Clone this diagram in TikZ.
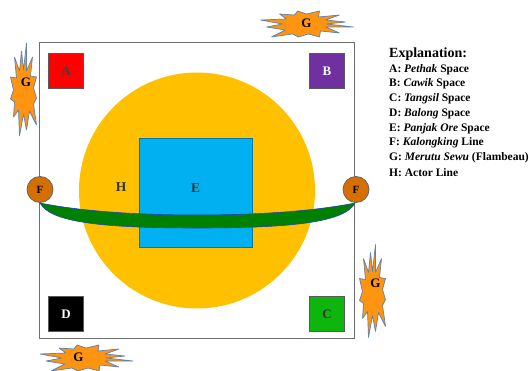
\documentclass[tikz,border=0pt]{standalone}
\usepackage{fontspec}
\setmainfont{Liberation Serif}
\definecolor{framegrey}{HTML}{6E6E6E}
\definecolor{discyellow}{HTML}{FFC000}
\definecolor{centreblue}{HTML}{00B0F0}
\definecolor{boxred}{HTML}{FF0000}
\definecolor{boxpurple}{HTML}{7030A0}
\definecolor{boxgreen}{HTML}{0DB50D}
\definecolor{fbrown}{HTML}{D46F00}
\definecolor{lensgreen}{HTML}{008000}
\definecolor{lensblue}{HTML}{2040C0}
\definecolor{staror}{HTML}{FF9410}
\definecolor{starline}{HTML}{5F82AE}
\tikzset{
  x=1pt,y=-1pt,
  cornerbox/.style={draw=black!65,line width=.8pt,minimum width=35.5pt,minimum height=34.5pt,inner sep=0pt,font=\bfseries\fontsize{13}{13}\selectfont},
  fball/.style={circle,draw=black!60,fill=fbrown,line width=.8pt,minimum size=26pt,inner sep=0pt,font=\bfseries\fontsize{11}{11}\selectfont},
  biglabel/.style={font=\bfseries\fontsize{13.5}{13.5}\selectfont,inner sep=0pt,text=black!80},
  glabel/.style={font=\bfseries\fontsize{13}{13}\selectfont,inner sep=0pt},
  legend/.style={anchor=west,inner sep=0pt,font=\bfseries\fontsize{11.5}{12}\selectfont},
  starshape/.style={draw=starline,fill=staror,line width=.7pt,line join=bevel},
}
\newcommand{\gstar}[2]{%
  \begin{scope}[shift={(#1)},rotate=#2]
  \draw[starshape] (-46,-4) -- (-20,-5) -- (-27,-10) -- (-12,-9) -- (-9,-13) -- (0,-10) -- (13,-13) -- (12,-7) -- (33,-9) -- (19,-4) -- (39,-2) -- (20,0) -- (47,3) -- (19,3) -- (33,9) -- (14,7) -- (13,13) -- (2,10) -- (-8,13) -- (-14,10) -- (-35,13) -- (-21,6) -- (-40,3) -- (-24,0) -- cycle;
  \end{scope}}
\begin{document}
\begin{tikzpicture}
\useasboundingbox (0,0) rectangle (529,371);
\node[draw=framegrey,line width=1pt,minimum width=315pt,minimum height=296.5pt,inner sep=0pt] (frame) at (197,190.5) {};
\node[circle,fill=discyellow,minimum size=236pt,inner sep=0pt] (disc) at (197,190.5) {};
\node[draw=black!30!centreblue,fill=centreblue,line width=.4pt,minimum width=113pt,minimum height=109pt,inner sep=0pt] (centre) at (196,192.5) {};
\node[biglabel] (H) at (121,187) {H};
\node[biglabel] (E) at (195.5,188) {E};
\node[cornerbox,fill=boxred,text=black!75] (A) at (66,71) {A};
\node[cornerbox,fill=boxpurple,text=white] (B) at (327,71) {B};
\node[cornerbox,fill=boxgreen,text=black!80] (C) at (327,314) {C};
\node[cornerbox,fill=black,text=white] (D) at (66,314) {D};
\coordinate (lensL) at (40,203);
\coordinate (lensM) at (197,215);
\coordinate (lensN) at (197,228);
\coordinate (lensR) at (355,203);
\draw[draw=lensblue,fill=lensgreen,line width=.6pt] (lensL) .. controls (70,209) and (120,215) .. (lensM) .. controls (274,215) and (325,209) .. (lensR) .. controls (345,222) and (294,228) .. (lensN) .. controls (100,228) and (50,222) .. (lensL) -- cycle;
\node[fball] (F1) at (40,189.5) {F};
\node[fball] (F2) at (356,189.5) {F};
\gstar{306.5,24}{0}
\gstar{86,358}{0}
\gstar{23.5,90}{90}
\gstar{372.5,291.5}{90}
\node[glabel] (G1) at (306.5,23) {G};
\node[glabel] (G2) at (78.5,357) {G};
\node[glabel] (G3) at (26,82) {G};
\node[glabel] (G4) at (375.5,283) {G};
\node[legend,font=\bfseries\fontsize{14}{14}\selectfont] (t0) at (389,54) {Explanation:};
\node[legend] (t1) at (389,69.5) {A: \textit{Pethak} Space};
\node[legend] (t2) at (389,84) {B: \textit{Cawik} Space};
\node[legend] (t3) at (389,99) {C: \textit{Tangsil} Space};
\node[legend] (t4) at (389,113.5) {D: \textit{Balong} Space};
\node[legend] (t5) at (389,128.5) {E: \textit{Panjak Ore} Space};
\node[legend] (t6) at (389,143) {F: \textit{Kalongking} Line};
\node[legend] (t7) at (389,158) {G: \textit{Merutu Sewu} (Flambeau)};
\node[legend] (t8) at (389,172.5) {H: Actor Line};
\end{tikzpicture}
\end{document}
